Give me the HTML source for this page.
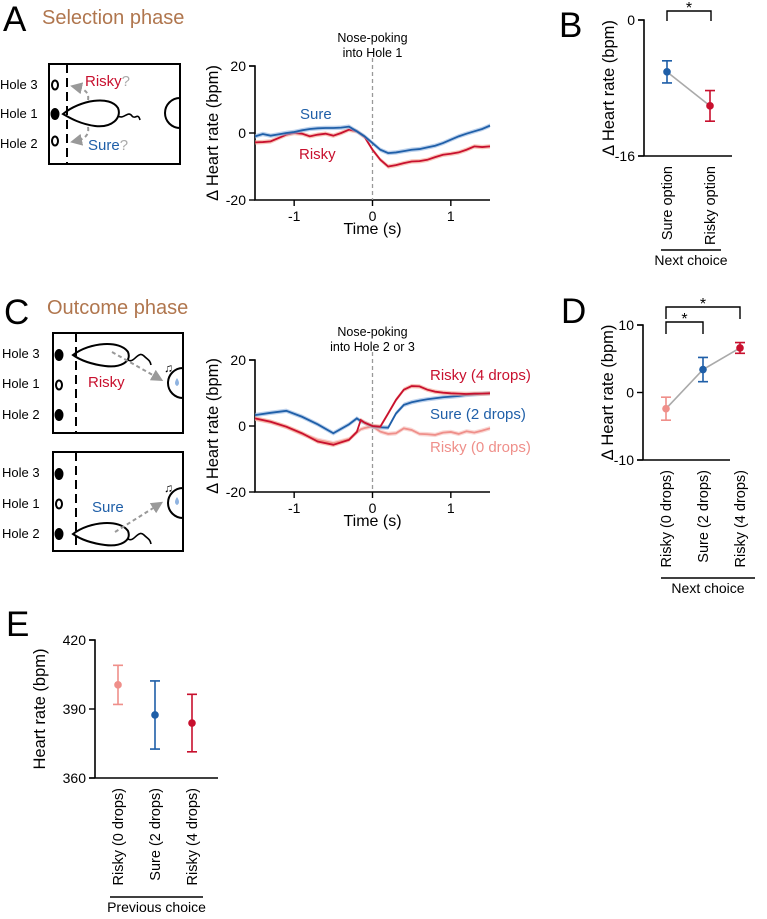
<!DOCTYPE html>
<html><head><meta charset="utf-8">
<style>
html,body{margin:0;padding:0;background:#fff;}
body{width:767px;height:914px;overflow:hidden;font-family:"Liberation Sans",Arial,sans-serif;}
svg text{font-family:"Liberation Sans",Arial,sans-serif;}
</style></head>
<body>
<svg id="fig" width="767" height="914" viewBox="0 0 767 914" xmlns="http://www.w3.org/2000/svg">
<defs>
<marker id="arr" markerWidth="6" markerHeight="6" refX="3" refY="3" orient="auto"><path d="M0,0 L6,3 L0,6 z" fill="#999"/></marker>
</defs>
<text x="3" y="31" font-size="35">A</text>
<text x="42" y="24" font-size="20" fill="#b0764e">Selection phase</text>
<text x="559" y="37" font-size="35">B</text>
<text x="4" y="324" font-size="35">C</text>
<text x="47" y="314" font-size="20" fill="#b0764e">Outcome phase</text>
<text x="561" y="323" font-size="35">D</text>
<text x="6" y="636" font-size="35">E</text>

<g stroke="#000" fill="none" stroke-width="2">
<rect x="49" y="64" width="131" height="100"/>
<line x1="67" y1="64" x2="67" y2="164" stroke-dasharray="9,5"/>
<ellipse cx="55" cy="85" rx="3" ry="4.5"/>
<ellipse cx="55" cy="114" rx="3.5" ry="5" fill="#000"/>
<ellipse cx="55" cy="141" rx="3" ry="4.5"/>
<path d="M63,114 C80,100 110,95 118,108 C122,118 112,128 95,126 C80,124 70,118 63,114 Z"/>
<path d="M118,116 C124,120 128,110 132,116 C135,120 138,112 140,120" stroke-width="1.6"/>
<path d="M180,98 A15,15 0 0,0 180,128"/>
<path d="M88,100 Q90,90 76,87" stroke="#999" stroke-dasharray="4,3" marker-end="url(#arr)"/>
<path d="M88,127 Q90,138 76,141" stroke="#999" stroke-dasharray="4,3" marker-end="url(#arr)"/>
</g>
<text x="0" y="89" font-size="13">Hole 3</text>
<text x="0" y="118" font-size="13">Hole 1</text>
<text x="0" y="148" font-size="13">Hole 2</text>
<text x="85" y="86" font-size="15" fill="#c8102e">Risky<tspan fill="#aaa">?</tspan></text>
<text x="88" y="150" font-size="15" fill="#1f5fa8">Sure<tspan fill="#aaa">?</tspan></text>

<g stroke="#000" fill="none" stroke-width="2">
<rect x="53" y="333" width="130" height="100"/>
<line x1="76" y1="333" x2="76" y2="433" stroke-dasharray="9,5"/>
<ellipse cx="59" cy="355" rx="3.5" ry="5" fill="#000"/>
<ellipse cx="59" cy="385" rx="3" ry="4.5"/>
<ellipse cx="59" cy="415" rx="3.5" ry="5" fill="#000"/>
<path d="M73,355 C90,342 120,340 128,352 C132,362 120,368 105,366 C90,364 80,360 73,355 Z"/>
<path d="M128,360 C134,364 138,350 144,356 C148,360 150,360 151,365" stroke-width="1.6"/>
<path d="M183,368 A15,15 0 0,0 183,398"/>
<path d="M112,352 L158,378" stroke="#999" stroke-dasharray="4,3" marker-end="url(#arr)"/>
</g>
<text x="164" y="372" font-size="12">♫</text>
<path d="M177,378 q-4,6 0,8 q4,-2 0,-8z" fill="#8fb3e0"/>
<g stroke="#000" fill="none" stroke-width="2">
<rect x="53" y="452" width="130" height="99"/>
<line x1="76" y1="452" x2="76" y2="551" stroke-dasharray="9,5"/>
<ellipse cx="59" cy="474" rx="3.5" ry="5" fill="#000"/>
<ellipse cx="59" cy="504" rx="3" ry="4.5"/>
<ellipse cx="59" cy="534" rx="3.5" ry="5" fill="#000"/>
<path d="M73,534 C90,521 120,519 128,531 C132,541 120,547 105,545 C90,543 80,539 73,534 Z"/>
<path d="M128,539 C134,543 138,529 144,535 C148,539 150,539 151,544" stroke-width="1.6"/>
<path d="M183,488 A15,15 0 0,0 183,518"/>
<path d="M115,532 L158,505" stroke="#999" stroke-dasharray="4,3" marker-end="url(#arr)"/>
</g>
<text x="164" y="492" font-size="12">♫</text>
<path d="M177,497 q-4,6 0,8 q4,-2 0,-8z" fill="#8fb3e0"/>
<text x="2" y="358" font-size="13">Hole 3</text>
<text x="2" y="388" font-size="13">Hole 1</text>
<text x="2" y="419" font-size="13">Hole 2</text>
<text x="2" y="477" font-size="13">Hole 3</text>
<text x="2" y="508" font-size="13">Hole 1</text>
<text x="2" y="538" font-size="13">Hole 2</text>
<text x="88" y="387" font-size="15" fill="#c8102e">Risky</text>
<text x="92" y="512" font-size="15" fill="#1f5fa8">Sure</text>

<g id="charts"></g>
</svg>
<script>
const timeA = [-1.5,-1.4,-1.3,-1.2,-1.1,-1.0,-0.9,-0.8,-0.7,-0.6,-0.5,-0.4,-0.3,-0.2,-0.1,0,0.1,0.2,0.3,0.4,0.5,0.6,0.7,0.8,0.9,1.0,1.1,1.2,1.3,1.4,1.5];
const sureA = [-1,-0.3,-0.8,-0.4,0,0.3,0.8,1.2,1.4,1.5,1.5,1.6,1.9,0.5,-1,-3,-5,-6,-5.8,-5.4,-5,-4.8,-4.3,-3.8,-3,-2,-1,-0.2,0.5,1.2,2.2];
const riskyA = [-2.8,-2.7,-2.5,-1.5,-0.5,0,-0.2,-1,-0.5,-0.2,-0.8,0,1,0.5,-1.2,-5,-8,-10,-9.6,-9,-8.5,-8.4,-8,-7.2,-6.5,-6.2,-5.8,-5,-4,-4.2,-4];
const timeC = [-1.5,-1.3,-1.1,-0.9,-0.7,-0.5,-0.3,-0.2,-0.15,-0.1,0,0.1,0.2,0.3,0.4,0.5,0.6,0.7,0.8,0.9,1.0,1.1,1.2,1.3,1.4,1.5];
const sureC = [3.3,4,4.6,2.8,0.5,-2.2,0.5,2.3,1.5,1,-0.2,-0.4,-0.5,3.8,6.4,7.2,7.7,8.1,8.4,8.7,8.9,9.1,9.4,9.6,9.8,9.9];
const risky4C = [2.3,1.3,-0.2,-2.2,-4.7,-5.7,-4.2,-1.8,1.8,1,0,-0.2,3.8,7.9,11,12.1,12,11,10.4,10.1,9.9,9.8,9.7,9.8,9.8,9.9];
const risky0C = [2.2,1.2,-0.3,-2.4,-4.2,-5.2,-4,-2,-1,-0.6,-0.1,-1.7,-2.4,-2.2,-0.7,-1.2,-2.4,-2.5,-2.7,-2,-1.8,-2.4,-1.6,-2,-1.4,-0.7];
const catsB = ["Sure option","Risky option"];
const meanB = [-6.1,-10.1];
const errB = [1.3,1.8];
const catsD = ["Risky (0 drops)","Sure (2 drops)","Risky (4 drops)"];
const meanD = [-2.4,3.4,6.6];
const errD = [1.7,1.8,0.8];
const catsE = ["Risky (0 drops)","Sure (2 drops)","Risky (4 drops)"];
const meanE = [400.5,387.4,383.9];
const errE = [8.5,14.8,12.5];

const NS="http://www.w3.org/2000/svg";
const root=document.getElementById('charts');
function mk(tag,attrs,parent){const e=document.createElementNS(NS,tag);for(const k in attrs)e.setAttribute(k,attrs[k]);(parent||root).appendChild(e);return e;}
function txt(x,y,s,size,anchor,fill,rot){const t=mk('text',{x:x,y:y,'font-size':size,'text-anchor':anchor||'start',fill:fill||'#000'});if(rot)t.setAttribute('transform','rotate(-90 '+x+' '+y+')');t.textContent=s;return t;}

function lineChart(o){
  const sx=t=>o.x0+(t-(-1.5))/3*(o.x1-o.x0);
  const sy=v=>o.yz-(v/20)*(o.yz-o.yt);
  const g=mk('g',{});
  
  
  const ax=mk('path',{d:`M${o.x0-6},${sy(20)} H${o.x0} V${sy(-20)} H${o.x1}`,stroke:'#000',fill:'none','stroke-width':1.6},g);
  
  
  [20,0,-20].forEach(v=>{mk('line',{x1:o.x0-6,x2:o.x0,y1:sy(v),y2:sy(v),stroke:'#000','stroke-width':1.4},g);const t=txt(o.x0-9,sy(v)+5,String(v),14,'end');});
  [-1,0,1].forEach(v=>{mk('line',{x1:sx(v),x2:sx(v),y1:sy(-20),y2:sy(-20)+6,stroke:'#000','stroke-width':1.4},g);const t=txt(sx(v),sy(-20)+21,String(v),14,'middle');});
  const vl=mk('line',{x1:sx(0),x2:sx(0),y1:sy(20)-8,y2:sy(-20),stroke:'#999','stroke-dasharray':'4,3','stroke-width':1.3},g);
  
  
  const xt=txt(sx(0),sy(-20)+34,'Time (s)',16,'middle');
  
  
  const yt=txt(o.x0-37,(sy(20)+sy(-20))/2,'Δ Heart rate (bpm)',16.5,'middle','#000',true);
  
  
  o.note.forEach((s,i)=>{const t=txt(sx(0),sy(20)-24+i*15,s,12.5,'middle');});
  o.series.forEach(s=>{
    const pts=s.v.map((v,i)=>[sx(s.t[i]),sy(v)]);
    const up=pts.map(p=>p[0]+','+(p[1]-2.2)).join(' ');
    const dn=pts.slice().reverse().map(p=>p[0]+','+(p[1]+2.2)).join(' ');
    const band=mk('polygon',{points:up+' '+dn,fill:s.band,opacity:0.6},g);
    
    
    const pl=mk('polyline',{points:pts.map(p=>p.join(',')).join(' '),fill:'none',stroke:s.c,'stroke-width':1.8},g);
    
    
    const lb=txt(s.lx,s.ly,s.label,15,'start',s.c);
    
    
  });
}
lineChart({name:'chart-a',x0:255,x1:490,yt:66,yz:133,note:['Nose-poking','into Hole 1'],series:[
 {name:'risky',t:timeA,v:riskyA,c:'#c8102e',band:'#f4a08a',label:'Risky',lx:299,ly:159},
 {name:'sure',t:timeA,v:sureA,c:'#1f5fa8',band:'#8fb3e0',label:'Sure',lx:300,ly:119}]});
lineChart({name:'chart-c',x0:255,x1:490,yt:360,yz:426,note:['Nose-poking','into Hole 2 or 3'],series:[
 {name:'risky-0-drops',t:timeC,v:risky0C,c:'#ef8f8a',band:'#f6c0bb',label:'Risky (0 drops)',lx:430,ly:452},
 {name:'sure-2-drops',t:timeC,v:sureC,c:'#1f5fa8',band:'#8fb3e0',label:'Sure (2 drops)',lx:430,ly:419},
 {name:'risky-4-drops',t:timeC,v:risky4C,c:'#c8102e',band:'#f4a08a',label:'Risky (4 drops)',lx:430,ly:380}]});

function dotChart(o){
  const sy=v=>o.ybot-(v-o.vmin)/(o.vmax-o.vmin)*(o.ybot-o.ytop);
  const g=mk('g',{});
  
  
  const ax=mk('path',{d:`M${o.ax-6},${o.ytop} H${o.ax} V${o.ybot} H${o.axEnd} M${o.ax-6},${o.ybot} H${o.ax}`,stroke:'#000',fill:'none','stroke-width':1.6},g);
  
  
  o.ticks.forEach(v=>{mk('line',{x1:o.ax-6,x2:o.ax,y1:sy(v),y2:sy(v),stroke:'#000','stroke-width':1.4},g);const t=txt(o.ax-9,sy(v)+5,String(v),14,'end');});
  const yt=txt(o.ax-o.ylOff,(o.ytop+o.ybot)/2,o.ylabel,16.5,'middle','#000',true);
  
  
  if(o.connect){const pl=mk('polyline',{points:o.mean.map((m,i)=>o.xs[i]+','+sy(m)).join(' '),fill:'none',stroke:'#aaa','stroke-width':1.6},g);}
  o.mean.forEach((m,i)=>{
    const x=o.xs[i],c=o.colors[i];
    const eb=mk('path',{d:`M${x-5},${sy(m+o.err[i])} H${x+5} M${x},${sy(m+o.err[i])} V${sy(m-o.err[i])} M${x-5},${sy(m-o.err[i])} H${x+5}`,stroke:c,'stroke-width':1.6,fill:'none'},g);
    
    
    const p=mk('circle',{cx:x,cy:sy(m),r:3.8,fill:c},g);
    
    
    const t=txt(x+5,o.ybot+10,o.cats[i],14.5,'end','#000',true);
    
    
  });
  const gl=mk('line',{x1:o.grp[0],x2:o.grp[1],y1:o.grp[2],y2:o.grp[2],stroke:'#000','stroke-width':1.4},g);
  
  
  const gt=txt((o.grp[0]+o.grp[1])/2,o.grp[2]+15,o.grpLabel,14,'middle');
  
  
  (o.brackets||[]).forEach(b=>{
    const bp=mk('path',{d:`M${b[0]},${b[3]} V${b[2]} H${b[1]} V${b[3]}`,stroke:'#000',fill:'none','stroke-width':1.4},g);
    
    
    const st=txt((b[0]+b[1])/2,b[2]+2,'*',16,'middle');
    
    
  });
}
dotChart({name:'chart-b',ax:644,axEnd:732,ytop:20,ybot:156,vmin:-16,vmax:0,ticks:[0,-16],ylabel:'Δ Heart rate (bpm)',ylOff:30,
 xs:[667,710],mean:meanB,err:errB,cats:catsB,colors:['#1f5fa8','#c8102e'],connect:true,grp:[661,721,250],grpLabel:'Next choice',brackets:[[667,711,11,21]]});
dotChart({name:'chart-d',ax:643,axEnd:730,ytop:325,ybot:460,vmin:-10,vmax:10,ticks:[10,0,-10],ylabel:'Δ Heart rate (bpm)',ylOff:30,
 xs:[666,703,740],mean:meanD,err:errD,cats:catsD,colors:['#ef8f8a','#1f5fa8','#c8102e'],connect:true,grp:[661,755,578],grpLabel:'Next choice',brackets:[[666,703,322,334],[666,740,307,319]]});
dotChart({name:'chart-e',ax:95,axEnd:218,ytop:640,ybot:778,vmin:360,vmax:420,ticks:[420,390,360],ylabel:'Heart rate (bpm)',ylOff:50,
 xs:[118,155,192],mean:meanE,err:errE,cats:catsE,colors:['#ef8f8a','#1f5fa8','#c8102e'],connect:false,grp:[110,203,897],grpLabel:'Previous choice'});
</script>
</body></html>
